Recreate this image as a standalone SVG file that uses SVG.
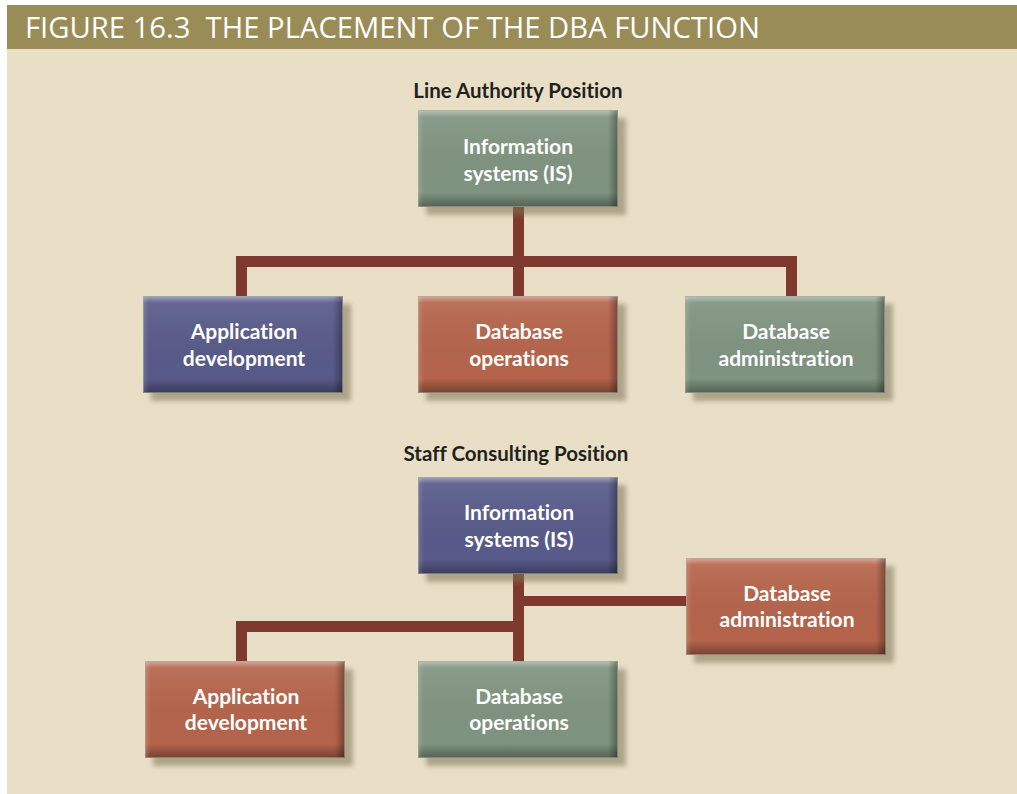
<svg xmlns="http://www.w3.org/2000/svg" width="1017" height="794" viewBox="0 0 1017 794">
<defs>
<linearGradient id="gv" x1="0" y1="0" x2="0" y2="1">
<stop offset="0" stop-color="#fff" stop-opacity="0.45"/>
<stop offset="0.07" stop-color="#fff" stop-opacity="0.08"/>
<stop offset="0.85" stop-color="#000" stop-opacity="0"/>
<stop offset="1" stop-color="#000" stop-opacity="0.35"/>
</linearGradient>
<linearGradient id="gh" x1="0" y1="0" x2="1" y2="0">
<stop offset="0" stop-color="#fff" stop-opacity="0.15"/>
<stop offset="0.03" stop-color="#fff" stop-opacity="0"/>
<stop offset="0.95" stop-color="#000" stop-opacity="0"/>
<stop offset="1" stop-color="#000" stop-opacity="0.35"/>
</linearGradient>
<filter id="sh" x="-10%" y="-10%" width="130%" height="140%">
<feGaussianBlur stdDeviation="2.5"/>
</filter>
<symbol id="box" overflow="visible">
<rect x="8" y="8" width="200" height="97" fill="#7d7357" opacity="0.55" filter="url(#sh)"/>
</symbol>
</defs>
<style>
.bg{fill:#e9dfc7}
.hdr{fill:#9a8c57}
.ht{font-family:"Open Sans","Liberation Sans",sans-serif;font-size:30px;fill:#fff;white-space:pre}
.ttl{font-family:"Lato","Liberation Sans",sans-serif;font-weight:bold;font-size:20.5px;fill:#231f1c;text-anchor:middle;font-variant-ligatures:none}
.bt{font-family:"Lato","Liberation Sans",sans-serif;font-weight:bold;font-size:21px;fill:#fff;text-anchor:middle;font-variant-ligatures:none}
.green{fill:#7f9480}
.blue{fill:#585a8a}
.red{fill:#b5644b}
.ov1{fill:url(#gv)}
.ov2{fill:url(#gh)}
.edge{fill:none;stroke:#a9a89a;stroke-width:1;stroke-opacity:0.6}
.con{fill:#7e3a2e}
</style>
<rect x="0" y="0" width="1017" height="794" fill="#fff"/>
<rect class="bg" x="7" y="48" width="1010" height="746"/>
<rect class="hdr" x="7" y="5" width="1010" height="44"/>
<text class="ht" x="25" y="38" textLength="735" lengthAdjust="spacingAndGlyphs" xml:space="preserve">FIGURE 16.3  THE PLACEMENT OF THE DBA FUNCTION</text>

<text class="ttl" x="518" y="98">Line Authority Position</text>
<text class="ttl" x="516" y="461">Staff Consulting Position</text>

<g id="connectors">
<rect class="con" x="513" y="205" width="11" height="92"/>
<rect class="con" x="236" y="256" width="561" height="11"/>
<rect class="con" x="236" y="256" width="11" height="41"/>
<rect class="con" x="786" y="256" width="11" height="41"/>
<rect class="con" x="513" y="572" width="11" height="90"/>
<rect class="con" x="513" y="596" width="174" height="10"/>
<rect class="con" x="236" y="621" width="288" height="11"/>
<rect class="con" x="236" y="621" width="11" height="41"/>
</g>

<g id="line-is" transform="translate(418,110)">
<use href="#box"/>
<rect class="green" width="200" height="97"/><rect class="ov1" width="200" height="97"/><rect class="ov2" width="200" height="97"/><rect class="edge" x="0.5" y="0.5" width="199" height="96"/>
<text class="bt" x="100" y="44">Information</text><text class="bt" x="100" y="71">systems (IS)</text>
</g>
<g id="line-appdev" transform="translate(143,296)">
<use href="#box"/>
<rect class="blue" width="200" height="97"/><rect class="ov1" width="200" height="97"/><rect class="ov2" width="200" height="97"/><rect class="edge" x="0.5" y="0.5" width="199" height="96"/>
<text class="bt" x="101" y="43">Application</text><text class="bt" x="101" y="70">development</text>
</g>
<g id="line-dbops" transform="translate(418,296)">
<use href="#box"/>
<rect class="red" width="200" height="97"/><rect class="ov1" width="200" height="97"/><rect class="ov2" width="200" height="97"/><rect class="edge" x="0.5" y="0.5" width="199" height="96"/>
<text class="bt" x="101" y="43">Database</text><text class="bt" x="101" y="70">operations</text>
</g>
<g id="line-dbadmin" transform="translate(685,296)">
<use href="#box"/>
<rect class="green" width="200" height="97"/><rect class="ov1" width="200" height="97"/><rect class="ov2" width="200" height="97"/><rect class="edge" x="0.5" y="0.5" width="199" height="96"/>
<text class="bt" x="101" y="43">Database</text><text class="bt" x="101" y="70">administration</text>
</g>

<g id="staff-is" transform="translate(418,477)">
<use href="#box"/>
<rect class="blue" width="200" height="97"/><rect class="ov1" width="200" height="97"/><rect class="ov2" width="200" height="97"/><rect class="edge" x="0.5" y="0.5" width="199" height="96"/>
<text class="bt" x="101" y="43">Information</text><text class="bt" x="101" y="70">systems (IS)</text>
</g>
<g id="staff-dbadmin" transform="translate(686,558)">
<use href="#box"/>
<rect class="red" width="200" height="97"/><rect class="ov1" width="200" height="97"/><rect class="ov2" width="200" height="97"/><rect class="edge" x="0.5" y="0.5" width="199" height="96"/>
<text class="bt" x="101" y="43">Database</text><text class="bt" x="101" y="69">administration</text>
</g>
<g id="staff-appdev" transform="translate(145,661)">
<use href="#box"/>
<rect class="red" width="200" height="97"/><rect class="ov1" width="200" height="97"/><rect class="ov2" width="200" height="97"/><rect class="edge" x="0.5" y="0.5" width="199" height="96"/>
<text class="bt" x="101" y="43">Application</text><text class="bt" x="101" y="69">development</text>
</g>
<g id="staff-dbops" transform="translate(418,661)">
<use href="#box"/>
<rect class="green" width="200" height="97"/><rect class="ov1" width="200" height="97"/><rect class="ov2" width="200" height="97"/><rect class="edge" x="0.5" y="0.5" width="199" height="96"/>
<text class="bt" x="101" y="43">Database</text><text class="bt" x="101" y="69">operations</text>
</g>
</svg>
